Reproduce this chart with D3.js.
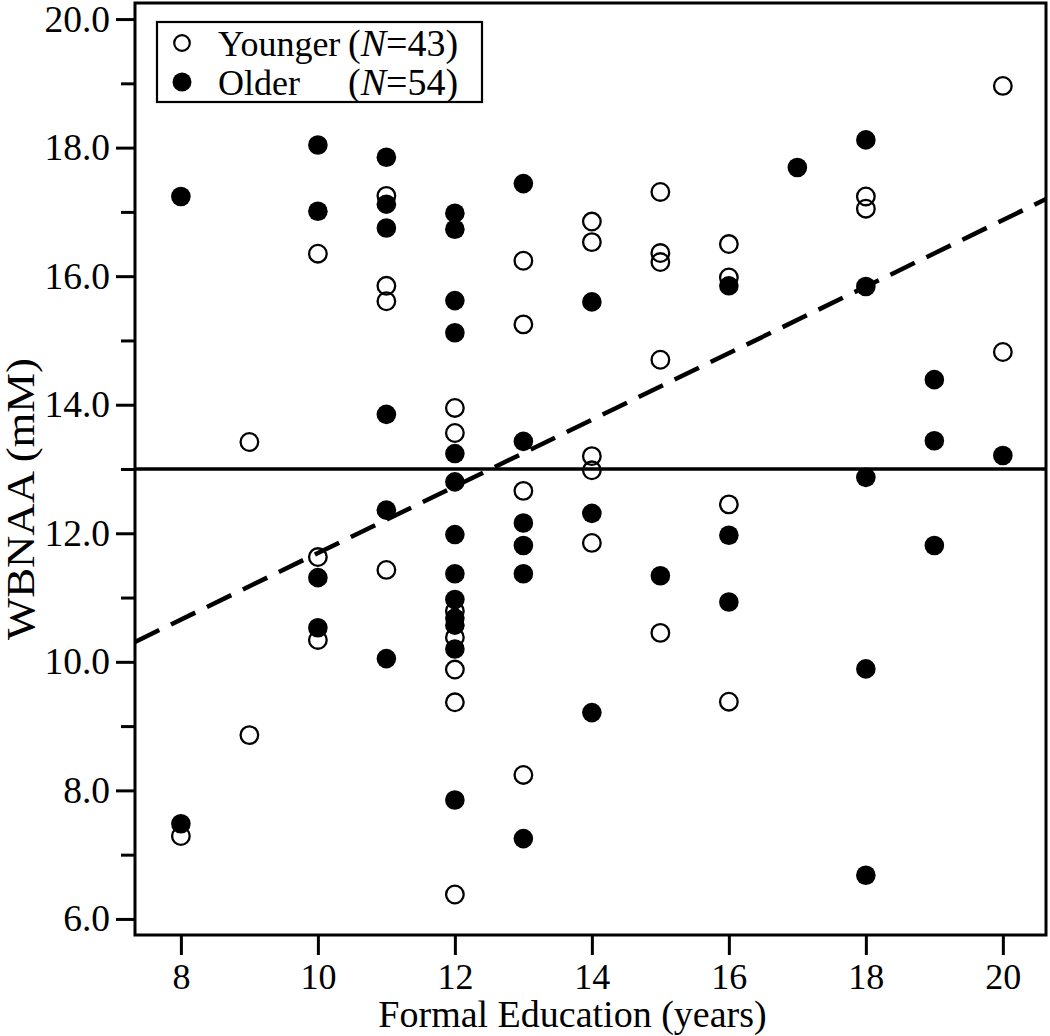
<!DOCTYPE html>
<html>
<head>
<meta charset="utf-8">
<script src="https://cdn.jsdelivr.net/npm/d3@7"></script>
<style>
  html, body { margin: 0; padding: 0; background: #fff; }
  svg text { font-family: "Liberation Serif", "Times New Roman", serif; fill: #000; }
</style>
</head>
<body>
<svg id="chart" width="1050" height="1036"></svg>
<script>
// ---- data ----
const youngerX = [8, 9, 9, 10, 10, 10, 11, 11, 11, 11,
  12, 12, 12, 12, 12, 12, 12,
  13, 13, 13, 13,
  14, 14, 14, 14, 14,
  15, 15, 15, 15, 15,
  16, 16, 16, 16,
  18, 18, 20, 20];
const youngerY = [7.29, 13.42, 8.86, 16.35, 11.63, 10.34, 17.25, 15.85, 15.61, 11.43,
  13.95, 13.56, 10.79, 10.38, 9.88, 9.37, 6.38,
  16.24, 15.25, 12.66, 8.24,
  16.85, 16.53, 13.20, 12.98, 11.85,
  17.31, 16.36, 16.22, 14.70, 10.45,
  16.50, 15.98, 12.45, 9.38,
  17.24, 17.05, 18.96, 14.82];

const olderX = [8, 8, 10, 10, 10, 10, 11, 11, 11, 11, 11, 11,
  12, 12, 12, 12, 12, 12, 12, 12, 12, 12, 12, 12, 12,
  13, 13, 13, 13, 13, 13,
  14, 14, 14, 15, 16, 16, 16, 17,
  18, 18, 18, 18, 18,
  19, 19, 19, 20];
const olderY = [17.24, 7.48, 18.04, 17.01, 11.31, 10.53, 17.85, 17.12, 16.75, 13.85, 12.36, 10.05,
  16.98, 16.73, 15.62, 15.12, 13.24, 12.80, 11.98, 11.37, 10.97, 10.68, 10.57, 10.20, 7.85,
  17.44, 13.43, 12.16, 11.81, 11.37, 7.25,
  15.60, 12.31, 9.21, 11.34, 15.85, 11.97, 10.93, 17.69,
  18.12, 15.84, 12.87, 9.89, 6.68,
  14.39, 13.44, 11.81, 13.21];

const fitX = [7.33, 20.63];
const fitY = [10.31, 17.20];
const refY = [13.0];

const xMajorTicks = [8, 10, 12, 14, 16, 18, 20];
const yMajorTicks = [6, 8, 10, 12, 14, 16, 18, 20];
const yMinorTicks = [7, 9, 11, 13, 15, 17, 19];

const legendLabels = ["Younger", "Older"];
const legendN = ["43", "54"];
const xTitle = "Formal Education (years)";
const yTitle = "WBNAA (mM)";

// ---- layout ----
const L = 135, R = 1046, T = 3, B = 935;
const svg = d3.select("#chart");
const x = d3.scaleLinear().domain([7.33, 20.63]).range([L, R]);
const y = d3.scaleLinear().domain([5.75, 20.25]).range([B, T]);

svg.append("defs").append("clipPath").attr("id", "plotclip")
  .append("rect").attr("x", L).attr("y", T).attr("width", R - L).attr("height", B - T);

// axes
const fontSize = 36;
const yMajor = svg.append("g").attr("transform", `translate(${L},0)`)
  .call(d3.axisLeft(y).tickValues(yMajorTicks).tickSize(19).tickPadding(6).tickFormat(d3.format(".1f")));
const yMinor = svg.append("g").attr("transform", `translate(${L},0)`)
  .call(d3.axisLeft(y).tickValues(yMinorTicks).tickSize(14).tickFormat(""));
const xAx = svg.append("g").attr("transform", `translate(0,${B})`)
  .call(d3.axisBottom(x).tickValues(xMajorTicks).tickSize(20).tickPadding(8).tickFormat(d3.format("d")));

[yMajor, yMinor, xAx].forEach(g => {
  g.select(".domain").remove();
  g.selectAll(".tick line").attr("stroke", "#000").attr("stroke-width", 3);
  g.selectAll(".tick text").attr("font-family", "Liberation Serif, serif").attr("fill", "#000");
});
yMajor.selectAll(".tick text").attr("font-size", 37.5);
xAx.selectAll(".tick text").attr("font-size", fontSize);

// axis titles
svg.append("text").attr("x", (L + R) / 2 - 18).attr("y", 1027)
  .attr("text-anchor", "middle").attr("font-size", 38).attr("fill", "#000").text(xTitle);
svg.append("text").attr("transform", `translate(34,499) rotate(-90)`)
  .attr("text-anchor", "middle").attr("font-size", 39).attr("fill", "#000")
  .attr("textLength", 282).attr("lengthAdjust", "spacingAndGlyphs").text(yTitle);

// points
const plot = svg.append("g").attr("clip-path", "url(#plotclip)");
plot.selectAll("circle.young").data(d3.range(youngerX.length)).join("circle")
  .attr("class", "young")
  .attr("cx", i => x(youngerX[i])).attr("cy", i => y(youngerY[i]))
  .attr("r", 8.8).attr("fill", "none").attr("stroke", "#000").attr("stroke-width", 2.3);
plot.selectAll("circle.old").data(d3.range(olderX.length)).join("circle")
  .attr("class", "old")
  .attr("cx", i => x(olderX[i])).attr("cy", i => y(olderY[i]))
  .attr("r", 9.8).attr("fill", "#000");

// reference line and fit
plot.selectAll("line.ref").data(refY).join("line").attr("class", "ref")
  .attr("x1", L).attr("x2", R).attr("y1", d => y(d)).attr("y2", d => y(d))
  .attr("stroke", "#000").attr("stroke-width", 3.5);
plot.append("path")
  .attr("d", d3.line()(fitX.map((v, i) => [x(v), y(fitY[i])])))
  .attr("fill", "none").attr("stroke", "#000").attr("stroke-width", 4.5)
  .attr("stroke-dasharray", "27,13");

// frame
svg.append("rect").attr("x", L).attr("y", T).attr("width", R - L).attr("height", B - T)
  .attr("fill", "none").attr("stroke", "#000").attr("stroke-width", 3);

// legend
const lg = svg.append("g");
lg.append("rect").attr("x", 157).attr("y", 22).attr("width", 325).attr("height", 80)
  .attr("fill", "#fff").attr("stroke", "#000").attr("stroke-width", 2.2);
const rowY = [43, 82];
legendLabels.forEach((lab, i) => {
  if (i === 0) {
    lg.append("circle").attr("cx", 182).attr("cy", rowY[i]).attr("r", 7.8)
      .attr("fill", "none").attr("stroke", "#000").attr("stroke-width", 2.2);
  } else {
    lg.append("circle").attr("cx", 182).attr("cy", rowY[i]).attr("r", 9.5).attr("fill", "#000");
  }
  lg.append("text").attr("x", 218).attr("y", rowY[i] + 13).attr("font-size", fontSize)
    .attr("fill", "#000").text(lab);
  const t = lg.append("text").attr("x", 348).attr("y", rowY[i] + 13).attr("font-size", 38)
    .attr("fill", "#000");
  t.append("tspan").text("(");
  t.append("tspan").attr("font-style", "italic").text("N");
  t.append("tspan").text("=" + legendN[i] + ")");
});
</script>
</body>
</html>
